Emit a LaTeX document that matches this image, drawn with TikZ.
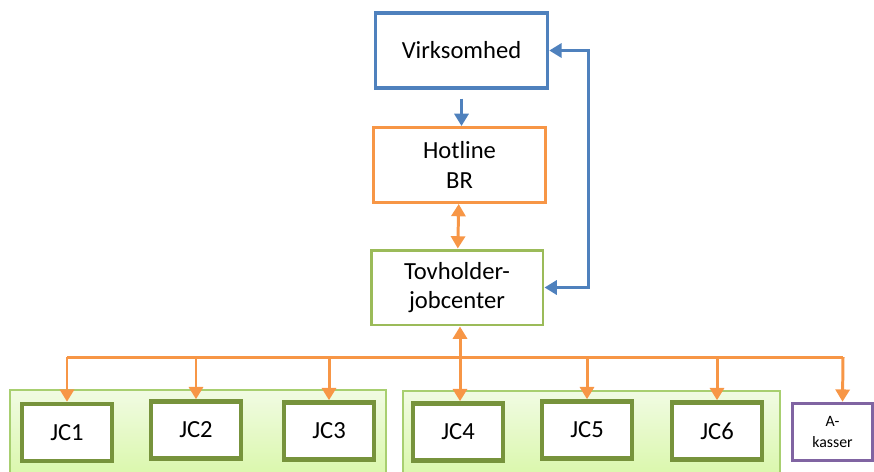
\documentclass[tikz,border=0pt]{standalone}
\usepackage{fontspec}
\setmainfont{Carlito}
\usepackage{tikz}
\usetikzlibrary{arrows.meta,positioning,calc}

\definecolor{boxblue}{HTML}{4F81BD}
\definecolor{boxorange}{HTML}{F79646}
\definecolor{boxgreen}{HTML}{9BBB59}
\definecolor{jcgreen}{HTML}{77933C}
\definecolor{boxpurple}{HTML}{8064A2}
\definecolor{paneltop}{HTML}{F1FBE3}
\definecolor{panelbot}{HTML}{D6F7A2}
\definecolor{panelline}{HTML}{A8CF70}

\begin{document}
\begin{tikzpicture}[x=0.02cm, y=-0.02cm,
    every node/.style={font=\fontsize{14}{17}\selectfont, align=center, fill=white, inner sep=0pt},
    mainbox/.style={draw, line width=1.7pt, minimum width=3.44cm, minimum height=1.5cm},
    jcbox/.style={draw=jcgreen, line width=2.6pt, minimum width=1.8cm, minimum height=1.14cm},
    panel/.style={draw=panelline, line width=0.8pt, top color=paneltop, bottom color=panelbot},
    link/.style={line width=1.7pt, -{Triangle[length=7pt, width=8pt]}},
    dlink/.style={line width=1.7pt, {Triangle[length=7pt, width=8pt]}-{Triangle[length=7pt, width=8pt]}}]

    \useasboundingbox (0,0) rectangle (874,471);

    % Panels behind the jobcenters
    \path[panel] (10,390) rectangle (386,490);
    \path[panel] (403,391) rectangle (780,490);

    % Top of the chain
    \node[mainbox, draw=boxblue, line width=2pt] (virk) at (461.5,50.5) {Virksomhed};
    \node[mainbox, draw=boxorange] (hot) at (459.5,165) {Hotline\\BR};
    \node[mainbox, draw=boxgreen] (tov) at (457,287.5) {Tovholder-\\jobcenter};

    % Jobcenters and A-kasser
    \node[jcbox] (jc1) at (67,432.5) {JC1};
    \node[jcbox] (jc2) at (196,430) {JC2};
    \node[jcbox] (jc3) at (329,431) {JC3};
    \node[jcbox] (jc4) at (458,432) {JC4};
    \node[jcbox] (jc5) at (587,430) {JC5};
    \node[jcbox] (jc6) at (717,431) {JC6};
    \node[draw=boxpurple, line width=2pt, minimum width=1.6cm, minimum height=1.14cm,
          font=\fontsize{9}{12}\selectfont] (ak) at (832.5,432) {A-\\kasser};

    % Connectors
    \draw[link, boxblue, shorten <=5pt] (virk.south) -- (virk.south |- hot.north);
    \draw[dlink, boxorange] (hot) -- (tov);
    \draw[dlink, boxblue] (virk.east) -- ++(39,0) |- (tov.east);

    \coordinate (bus) at (460,357);
    \draw[dlink, boxorange] (tov.south -| bus) -- (jc4.north -| bus);
    \draw[boxorange, line width=1.7pt] (bus -| jc1.north) -- (bus -| 843,0);
    \foreach \jc in {jc1,jc2,jc3,jc5,jc6}
        \draw[link, boxorange] (bus -| \jc.north) -- (\jc.north);
    \draw[link, boxorange] (bus -| 843,0) -- ([xshift=0.2cm]ak.north);

\end{tikzpicture}
\end{document}
